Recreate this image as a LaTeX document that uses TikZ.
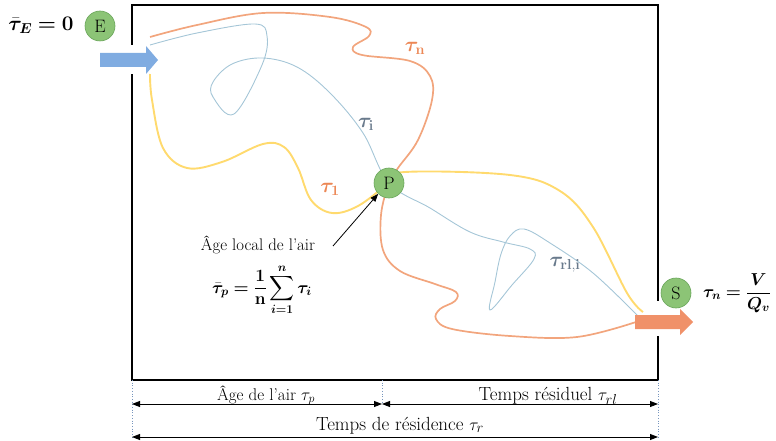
\documentclass[tikz,border=0pt]{standalone}
\usepackage{amsmath,bm}
\usetikzlibrary{arrows.meta}
\definecolor{orng}{RGB}{242,165,125}
\definecolor{ylw}{RGB}{255,218,110}
\definecolor{blu}{RGB}{165,198,215}
\definecolor{grn}{RGB}{140,196,118}
\definecolor{grnd}{RGB}{105,165,90}
\definecolor{arrblue}{RGB}{128,172,225}
\definecolor{arrorng}{RGB}{240,145,105}
\definecolor{lblorng}{RGB}{236,135,85}
\definecolor{lblblue}{RGB}{105,122,140}
\definecolor{dotblue}{RGB}{120,150,190}
\begin{document}
\begin{tikzpicture}[x=1pt,y=-1pt,
  txt/.style={font=\fontsize{19}{21}\selectfont, inner sep=0pt, anchor=base},
  anno/.style={font=\fontsize{16.8}{19}\selectfont, inner sep=0pt},
  bigmath/.style={font=\fontsize{19.5}{21}\selectfont, inner sep=0pt},
  trajlbl/.style={font=\fontsize{20}{22}\selectfont, inner sep=0pt},
  station/.style={circle, fill=grn, draw=grnd, line width=0.6pt, minimum size=30pt, inner sep=0pt, font=\fontsize{18}{19}\selectfont},
  path1/.style={line width=1.9pt, ylw},
  pathn/.style={line width=1.7pt, orng},
  pathi/.style={line width=0.9pt, blu},
  dimarrow/.style={line width=0.9pt, {Triangle[length=8pt,width=6pt]}-{Triangle[length=8pt,width=6pt]}},
  dimguide/.style={dotblue, dotted, line width=0.7pt},
  wall/.style={line width=1.8pt, black}]
\useasboundingbox (0,0) rectangle (776,441);

% positions
\coordinate (P) at (389,183);

% trajectories
\draw[pathn] plot[smooth, tension=0.6] coordinates {(150,37) (197,25) (263,13) (330,17) (366,27) (369,36) (353,47) (362,55) (410,61) (430,76) (432,100) (418,140) (398,168) (P) (381,215) (383,250) (400,271) (435,284) (456,292) (455,301) (440,309) (436,319) (452,329) (510,336) (577,337) (636,322)};
\draw[pathi] plot[smooth, tension=0.6] coordinates {(150,45) (197,33) (255,24) (267,36) (262,65) (234,114) (213,97) (213,82) (232,64) (263,58) (297,67) (330,93) (363,133) (P) (430,208) (470,232) (503,242) (530,249) (534,259) (512,285) (490,310) (495,282) (501,254) (510,236) (524,229) (550,243) (593,273) (638,316)};
\draw[path1] plot[smooth, tension=0.6] coordinates {(150,74) (152,100) (163,148) (187,168) (222,162) (263,144) (284,147) (298,168) (311,200) (332,213) (358,206) (P) (405,172) (510,175) (560,191) (593,227) (627,293) (643,312)};

% walls of the room
\draw[wall] (132,45) -- (132,5) -- (658,5) -- (658,301);
\draw[wall] (658,336) -- (658,380) -- (132,380) -- (132,74);

% inlet / outlet arrows
\fill[arrblue] (100,53) -- (146,53) -- (146,46) -- (158,60) -- (146,74) -- (146,67) -- (100,67) -- cycle;
\fill[arrorng] (635,315) -- (680,315) -- (680,309) -- (693,322) -- (680,335) -- (680,329) -- (635,329) -- cycle;

% stations
\node[station] (E) at (100,26) {E};
\node[station] (Pn) at (P) {P};
\node[station] (S) at (676,293) {S};

% labels
\node[bigmath] (tE) at (41,25) {$\bar{\bm{\tau}}_{\bm{E}}\bm{=}\mathbf{0}$};
\node[trajlbl, lblorng] (ln) at (415,48) {$\bm{\tau}_{\mathbf{n}}$};
\node[trajlbl, lblblue] (li) at (366,124) {$\bm{\tau}_{\mathbf{i}}$};
\node[trajlbl, lblorng] (l1) at (330,189) {$\bm{\tau}_{\mathbf{1}}$};
\node[trajlbl, lblblue] (lrl) at (565,265) {$\bm{\tau}_{\mathbf{rl,i}}$};
\node[font=\fontsize{18.5}{21}\selectfont, inner sep=0pt] (tn) at (737,293) {$\bm{\tau}_{\bm{n}}\bm{=}\dfrac{\bm{V}}{\bm{Q}_{\bm{v}}}$};

% local age annotation
\node[anno] (alocal) at (258,245) {Âge local de l'air};
\node[font=\fontsize{16.5}{19}\selectfont, inner sep=0pt] (formula) at (262,290) {$\displaystyle\bar{\bm{\tau}}_{\bm{p}}\bm{=}\frac{\mathbf{1}}{\mathbf{n}}\sum_{\bm{i=1}}^{\bm{n}}\bm{\tau}_{\bm{i}}$};
\coordinate (atail) at (333,246);
\draw[line width=0.8pt, -{Triangle[length=8pt,width=6pt]}] (atail) -- (Pn.south west);

% dimension lines
\coordinate (gl0) at (132,380);
\coordinate (gm0) at (382,380);
\coordinate (gr0) at (658,380);
\coordinate (d1l) at (132,404);
\coordinate (d1m) at (382,404);
\coordinate (d1r) at (658,404);
\coordinate (d2l) at (132,437);
\coordinate (d2r) at (658,437);
\draw[dimguide] (gl0) -- (d2l);
\draw[dimguide] (gm0) -- (d1m);
\draw[dimguide] (gr0) -- (d2r);
\draw[dimarrow] (d1l) -- (d1m);
\draw[dimarrow] (d1m) -- (d1r);
\draw[dimarrow] (d2l) -- (d2r);
\node[txt, font=\fontsize{17}{19}\selectfont] (agep) at (266,400) {Âge de l'air $\tau_p$};
\node[txt] (trl) at (548,400) {Temps résiduel $\tau_{rl}$};
\node[txt] (tr) at (400,430) {Temps de résidence $\tau_r$};
\end{tikzpicture}
\end{document}
